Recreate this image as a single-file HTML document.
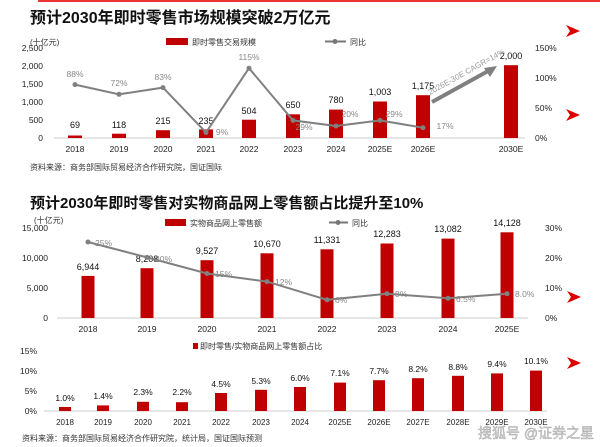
<!DOCTYPE html>
<html><head><meta charset="utf-8"><style>
body{margin:0;background:#fff;}
svg{display:block;font-family:"Liberation Sans","Noto Sans CJK SC",sans-serif;}
</style></head><body>
<svg width="600" height="447" viewBox="0 0 600 447" xmlns="http://www.w3.org/2000/svg">
<rect width="600" height="447" fill="#fff"/>
<line x1="38" y1="1" x2="600" y2="1" stroke="#e33" stroke-width="2"/>
<!-- Chart 1 -->
<text x="30" y="23" font-size="16" font-weight="bold" fill="#111">预计2030年即时零售市场规模突破2万亿元</text>
<text x="30" y="45" font-size="8" fill="#333">(十亿元)</text>
<rect x="166" y="38" width="22" height="7" fill="#c00000"/>
<text x="192" y="45" font-size="8" fill="#333">即时零售交易规模</text>
<line x1="325" y1="41.5" x2="346" y2="41.5" stroke="#777" stroke-width="2"/><circle cx="335" cy="41.5" r="2.5" fill="#777"/>
<text x="350" y="45" font-size="8" fill="#333">同比</text>
<g font-size="8.5" fill="#222" text-anchor="end">
<text x="43" y="51">2,500</text><text x="43" y="69">2,000</text><text x="43" y="87">1,500</text><text x="43" y="105">1,000</text><text x="43" y="123">500</text><text x="43" y="141">0</text>
</g>
<g font-size="8.5" fill="#222">
<text x="535" y="51">150%</text><text x="535" y="81">100%</text><text x="535" y="111">50%</text><text x="535" y="141">0%</text>
</g>
<line x1="54" y1="138" x2="525" y2="138" stroke="#ccc"/>
<g fill="#c00000">
<rect x="68" y="135.5" width="14" height="2.5"/>
<rect x="112" y="133.7" width="14" height="4.3"/>
<rect x="156" y="130.2" width="14" height="7.8"/>
<rect x="199" y="129.4" width="14" height="8.6"/>
<rect x="242" y="119.7" width="14" height="18.3"/>
<rect x="286" y="114.3" width="14" height="23.7"/>
<rect x="329" y="109.6" width="14" height="28.4"/>
<rect x="373" y="101.5" width="14" height="36.5"/>
<rect x="416" y="95.2" width="14" height="42.8"/>
<rect x="504" y="65.2" width="14" height="72.8"/>
</g>
<g font-size="9" fill="#111" text-anchor="middle">
<text x="75" y="128">69</text><text x="119" y="128">118</text><text x="163" y="124">215</text><text x="206" y="124">235</text><text x="249" y="114">504</text><text x="293" y="108">650</text><text x="336" y="103">780</text><text x="380" y="95">1,003</text><text x="423" y="89">1,175</text><text x="511" y="59">2,000</text>
</g>
<polyline points="75,84.6 119,94.3 163,87.6 206,132.5 249,68.2 293,120.4 336,126 380,120.4 423,127.7" fill="none" stroke="#808080" stroke-width="2"/>
<g fill="#808080"><circle cx="75" cy="84.6" r="2.5"/><circle cx="119" cy="94.3" r="2.5"/><circle cx="163" cy="87.6" r="2.5"/><circle cx="206" cy="132.5" r="2.5"/><circle cx="249" cy="68.2" r="2.5"/><circle cx="293" cy="120.4" r="2.5"/><circle cx="336" cy="126" r="2.5"/><circle cx="380" cy="120.4" r="2.5"/><circle cx="423" cy="127.7" r="2.5"/></g>
<g font-size="8.5" fill="#888" text-anchor="middle">
<text x="75" y="77">88%</text><text x="119" y="86">72%</text><text x="163" y="80">83%</text><text x="222" y="135">9%</text><text x="249" y="60">115%</text><text x="304" y="130">29%</text><text x="350" y="117">20%</text><text x="394" y="117">29%</text><text x="445" y="129">17%</text>
</g>
<line x1="432" y1="102" x2="490" y2="70" stroke="#808080" stroke-width="4"/>
<polygon points="497,66 484,68 490,77" fill="#808080"/>
<text x="430" y="95" font-size="8" fill="#999" transform="rotate(-29 430 95)">2026E-30E CAGR=14%</text>
<g font-size="8.5" fill="#222" text-anchor="middle">
<text x="75" y="152">2018</text><text x="119" y="152">2019</text><text x="163" y="152">2020</text><text x="206" y="152">2021</text><text x="249" y="152">2022</text><text x="293" y="152">2023</text><text x="336" y="152">2024</text><text x="380" y="152">2025E</text><text x="423" y="152">2026E</text><text x="511" y="152">2030E</text>
</g>
<text x="30" y="170" font-size="8" fill="#333">资料来源：商务部国际贸易经济合作研究院，国证国际</text>
<!-- Chart 2 -->
<text x="30" y="208" font-size="15" font-weight="bold" fill="#111">预计2030年即时零售对实物商品网上零售额占比提升至10%</text>
<text x="34" y="223" font-size="8" fill="#333">(十亿元)</text>
<rect x="165" y="219" width="21" height="7" fill="#c00000"/>
<text x="190" y="226" font-size="8" fill="#333">实物商品网上零售额</text>
<line x1="329" y1="222.5" x2="348" y2="222.5" stroke="#777" stroke-width="2"/><circle cx="338" cy="222.5" r="2.5" fill="#777"/>
<text x="352" y="226" font-size="8" fill="#333">同比</text>
<g font-size="8.5" fill="#222" text-anchor="end">
<text x="48" y="231">15,000</text><text x="48" y="261">10,000</text><text x="48" y="291">5,000</text><text x="48" y="321">0</text>
</g>
<g font-size="8.5" fill="#222"><text x="545" y="231">30%</text><text x="545" y="261">20%</text><text x="545" y="291">10%</text><text x="545" y="321">0%</text></g>
<line x1="57" y1="318" x2="528" y2="318" stroke="#ccc"/>
<g fill="#c00000">
<rect x="81.5" y="275.9" width="13" height="42.1"/>
<rect x="140.5" y="268.2" width="13" height="49.8"/>
<rect x="200.5" y="260.2" width="13" height="57.8"/>
<rect x="260.5" y="253.3" width="13" height="64.7"/>
<rect x="320.5" y="249.3" width="13" height="68.7"/>
<rect x="380.5" y="243.5" width="13" height="74.5"/>
<rect x="441.5" y="238.6" width="13" height="79.4"/>
<rect x="500.5" y="232.3" width="13" height="85.7"/>
</g>
<g font-size="9" fill="#111" text-anchor="middle">
<text x="88" y="270">6,944</text><text x="147" y="262">8,208</text><text x="207" y="254">9,527</text><text x="267" y="247">10,670</text><text x="327" y="243">11,331</text><text x="387" y="237">12,283</text><text x="448" y="232">13,082</text><text x="507" y="226">14,128</text>
</g>
<polyline points="88,242 147,257.4 207,273.5 267,281.6 327,299.8 387,293.7 448,298.3 507,293.7" fill="none" stroke="#808080" stroke-width="2"/>
<g fill="#808080"><circle cx="88" cy="242" r="2.5"/><circle cx="147" cy="257.4" r="2.5"/><circle cx="207" cy="273.5" r="2.5"/><circle cx="267" cy="281.6" r="2.5"/><circle cx="327" cy="299.8" r="2.5"/><circle cx="387" cy="293.7" r="2.5"/><circle cx="448" cy="298.3" r="2.5"/><circle cx="507" cy="293.7" r="2.5"/></g>
<g font-size="8.5" fill="#888">
<text x="95" y="246">25%</text><text x="155" y="262">20%</text><text x="215" y="277">15%</text><text x="275" y="285">12%</text><text x="335" y="303">6%</text><text x="395" y="297">8%</text><text x="456" y="302">6.5%</text><text x="515" y="297">8.0%</text>
</g>
<g font-size="8.5" fill="#222" text-anchor="middle">
<text x="88" y="332">2018</text><text x="147" y="332">2019</text><text x="207" y="332">2020</text><text x="267" y="332">2021</text><text x="327" y="332">2022</text><text x="387" y="332">2023</text><text x="448" y="332">2024</text><text x="507" y="332">2025E</text>
</g>
<!-- Chart 3 -->
<rect x="193" y="343" width="5" height="6" fill="#c00000"/>
<text x="200" y="349" font-size="8" fill="#333">即时零售/实物商品网上零售额占比</text>
<g font-size="8.5" fill="#222" text-anchor="end">
<text x="37" y="354">15%</text><text x="37" y="374">10%</text><text x="37" y="394">5%</text><text x="37" y="414">0%</text>
</g>
<line x1="44" y1="411" x2="547" y2="411" stroke="#ccc"/>
<g fill="#c00000">
<rect x="59" y="407" width="12" height="4"/>
<rect x="97" y="405.4" width="12" height="5.6"/>
<rect x="137" y="401.8" width="12" height="9.2"/>
<rect x="176" y="402.2" width="12" height="8.8"/>
<rect x="215" y="393" width="12" height="18"/>
<rect x="255" y="389.8" width="12" height="21.2"/>
<rect x="294" y="387" width="12" height="24"/>
<rect x="334" y="382.6" width="12" height="28.4"/>
<rect x="373" y="380.2" width="12" height="30.8"/>
<rect x="412" y="378.2" width="12" height="32.8"/>
<rect x="452" y="375.8" width="12" height="35.2"/>
<rect x="491" y="373.4" width="12" height="37.6"/>
<rect x="530" y="370.6" width="12" height="40.4"/>
</g>
<g font-size="8.5" fill="#111" text-anchor="middle">
<text x="65" y="401">1.0%</text><text x="103" y="399">1.4%</text><text x="143" y="395">2.3%</text><text x="182" y="395">2.2%</text><text x="221" y="387">4.5%</text><text x="261" y="384">5.3%</text><text x="300" y="381">6.0%</text><text x="340" y="376">7.1%</text><text x="379" y="374">7.7%</text><text x="418" y="372">8.2%</text><text x="458" y="370">8.8%</text><text x="497" y="367">9.4%</text><text x="536" y="364">10.1%</text>
</g>
<g font-size="8" fill="#222" text-anchor="middle">
<text x="65" y="425">2018</text><text x="103" y="425">2019</text><text x="143" y="425">2020</text><text x="182" y="425">2021</text><text x="221" y="425">2022</text><text x="261" y="425">2023</text><text x="300" y="425">2024</text><text x="340" y="425">2025E</text><text x="379" y="425">2026E</text><text x="418" y="425">2027E</text><text x="458" y="425">2028E</text><text x="497" y="425">2029E</text><text x="536" y="425">2030E</text>
</g>
<text x="22" y="441" font-size="8" fill="#333">资料来源：商务部国际贸易经济合作研究院，统计局，国证国际预测</text>
<text x="478" y="438" font-size="14" fill="#ddd" stroke="#999" stroke-width="0.4">搜狐号 @证券之星</text>
<!-- right arrows -->
<g fill="#d00">
<polygon points="566,25 580,31 566,37 570,31"/>
<polygon points="566,109 580,115 566,121 570,115"/>
<polygon points="567,291 581,297 567,303 571,297"/>
<polygon points="567,357 581,363 567,369 571,363"/>
</g>
</svg>
</body></html>
